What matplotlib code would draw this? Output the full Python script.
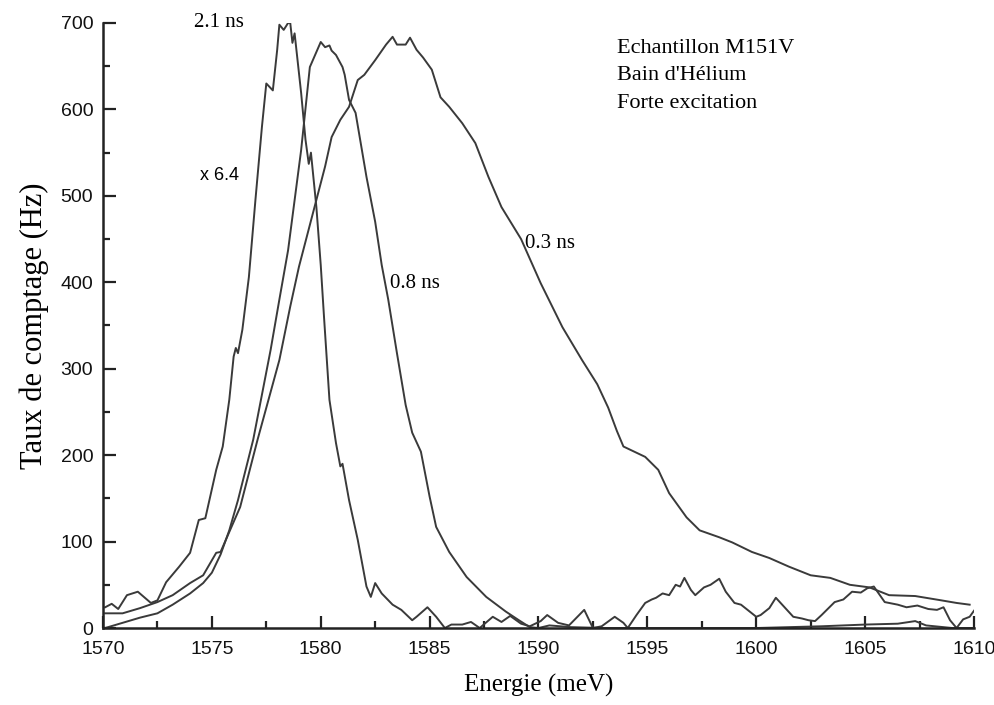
import matplotlib
matplotlib.use("Agg")
import matplotlib.pyplot as plt
from matplotlib.ticker import MultipleLocator

# Spectra (energy in meV, counting rate in Hz)
e_21 = [1570.1, 1570.4, 1570.7, 1571.1, 1571.6, 1572.2, 1572.5, 1572.9, 1573.5, 1574.0,
        1574.4, 1574.7, 1575.2, 1575.5, 1575.8, 1576.0, 1576.1, 1576.2, 1576.4, 1576.7,
        1577.0, 1577.3, 1577.5, 1577.8, 1578.0, 1578.1, 1578.3, 1578.5, 1578.6, 1578.7,
        1578.8, 1579.1, 1579.3, 1579.45, 1579.55, 1579.8, 1580.0, 1580.15, 1580.4, 1580.7,
        1580.9, 1581.0, 1581.3, 1581.7, 1582.1, 1582.3, 1582.5, 1582.8, 1583.3, 1583.7,
        1584.2, 1584.4, 1584.9, 1585.3, 1585.7, 1586.0, 1586.5, 1586.9, 1587.3, 1587.9,
        1588.3, 1588.7, 1589.2, 1589.6, 1590.1, 1590.4, 1590.9, 1591.4, 1592.1, 1592.5,
        1592.9, 1593.5, 1593.9, 1594.1, 1594.5, 1594.9, 1595.2, 1595.4, 1595.7, 1596.0,
        1596.3, 1596.5, 1596.7, 1597.0, 1597.2, 1597.6, 1597.9, 1598.3, 1598.6, 1599.0,
        1599.3, 1599.6, 1600.0, 1600.2, 1600.6, 1600.9, 1601.3, 1601.7, 1602.1, 1602.4,
        1602.7, 1603.0, 1603.6, 1604.0, 1604.4, 1604.8, 1605.1, 1605.4, 1605.9, 1606.5,
        1606.9, 1607.4, 1607.9, 1608.3, 1608.6, 1608.9, 1609.2, 1609.5, 1609.8, 1610.0]
c_21 = [24, 28, 22, 38, 42, 29, 32, 53, 71, 87,
        125, 127, 183, 210, 264, 314, 324, 318, 345, 406,
        495, 580, 630, 622, 669, 698, 692, 700, 700, 677,
        688, 619, 565, 537, 550, 487, 420, 360, 264, 214,
        187, 190, 148, 102, 48, 36, 52, 40, 27, 21,
        9, 13, 24, 13, 0, 4, 4, 7, 0, 13,
        7, 14, 5, 2, 8, 15, 6, 3, 21, 0,
        2, 13, 6, 0, 15, 29, 33, 35, 40, 38,
        50, 48, 58, 44, 38, 47, 50, 57, 42, 29,
        27, 21, 13, 15, 23, 35, 24, 13, 11, 9,
        8, 15, 30, 33, 42, 41, 46, 48, 30, 27,
        24, 26, 22, 21, 24, 9, 0, 10, 13, 20]

e_08 = [1570.1, 1570.9, 1571.7, 1572.5, 1573.2, 1574.0, 1574.6, 1575.0, 1575.4, 1575.8,
        1576.2, 1576.9, 1577.7, 1578.1, 1578.5, 1579.1, 1579.5, 1580.0, 1580.2, 1580.4,
        1580.5, 1580.7, 1581.0, 1581.1, 1581.3, 1581.6, 1582.1, 1582.5, 1582.8, 1583.1,
        1583.5, 1583.9, 1584.2, 1584.6, 1585.0, 1585.3, 1585.9, 1586.7, 1587.6, 1588.5,
        1589.1, 1589.6, 1590.0, 1590.5, 1591.5, 1593.0, 1600.0, 1603.0, 1605.0, 1606.5,
        1607.3, 1607.8, 1609.0, 1610.0]
c_08 = [0, 6, 12, 17, 27, 40, 52, 64, 85, 113,
        148, 218, 322, 380, 437, 553, 649, 678, 672, 674,
        668, 663, 649, 640, 611, 596, 522, 470, 420, 380,
        318, 258, 226, 204, 152, 117, 88, 59, 36, 19,
        9, 1, 0, 3, 1, 0, 0, 2, 4, 5,
        8, 3, 0, 0]

e_03 = [1570.1, 1570.9, 1571.7, 1572.5, 1573.2, 1574.0, 1574.6, 1575.2, 1575.4, 1576.3,
        1577.1, 1578.1, 1578.6, 1579.0, 1579.6, 1580.2, 1580.5, 1580.9, 1581.3, 1581.7,
        1582.0, 1582.5, 1583.0, 1583.3, 1583.5, 1583.9, 1584.1, 1584.4, 1584.7, 1585.1,
        1585.5, 1585.9, 1586.5, 1587.1, 1587.7, 1588.3, 1589.2, 1590.1, 1591.1, 1592.0,
        1592.7, 1593.2, 1593.6, 1593.9, 1594.4, 1594.9, 1595.5, 1596.0, 1596.8, 1597.4,
        1598.3, 1598.9, 1599.8, 1600.6, 1601.5, 1602.5, 1603.4, 1604.3, 1605.2, 1606.1,
        1607.3, 1608.5, 1609.2, 1609.8]
c_03 = [17, 17, 23, 30, 38, 52, 61, 87, 88, 140,
        218, 310, 372, 418, 476, 534, 568, 588, 603, 634,
        640, 657, 675, 684, 675, 675, 683, 669, 660, 646,
        614, 603, 584, 561, 522, 487, 450, 399, 348, 310,
        282, 255, 228, 210, 204, 198, 183, 156, 128, 113,
        105, 99, 88, 81, 71, 61, 58, 50, 47, 38,
        37, 32, 29, 27]

serif = "Liberation Serif"
sans = "Liberation Sans"
line_col = "#3a3a3a"

fig = plt.figure(figsize=(9.95, 7.05), dpi=100)
ax = fig.add_axes([0.1035, 0.1092, 0.8754, 0.8582])

ax.plot(e_21, c_21, color=line_col, lw=1.4)
ax.plot(e_08, c_08, color=line_col, lw=1.4)
ax.plot(e_03, c_03, color=line_col, lw=1.4)

ax.set_xlim(1570, 1610)
ax.set_ylim(0, 700)

# Axes style: only left and bottom, ticks inward
for side in ["top", "right"]:
    ax.spines[side].set_visible(False)
for side in ["left", "bottom"]:
    ax.spines[side].set_linewidth(1.8)
    ax.spines[side].set_color("#222222")

ax.xaxis.set_major_locator(MultipleLocator(5))
ax.xaxis.set_minor_locator(MultipleLocator(2.5))
ax.yaxis.set_major_locator(MultipleLocator(100))
ax.yaxis.set_minor_locator(MultipleLocator(50))
ax.tick_params(which="both", direction="in", width=1.6, color="#222222")
ax.tick_params(which="major", length=9)
ax.tick_params(which="minor", length=5)
ax.tick_params(axis="x", pad=9)
ax.tick_params(axis="y", pad=7)
for lab in ax.get_xticklabels() + ax.get_yticklabels():
    lab.set_fontfamily(sans)
    lab.set_fontsize(14)
    lab.set_color("#111111")

ax.set_xlabel("Energie (meV)", fontfamily=serif, fontsize=18, labelpad=12)
ax.set_ylabel("Taux de comptage (Hz)", fontfamily=serif, fontsize=22, labelpad=8)

# Curve labels
ax.text(1574.2, 701, "2.1 ns", fontfamily=serif, fontsize=15, va="center")
ax.text(1574.45, 524, "x 6.4", fontfamily=sans, fontsize=13, va="center")
ax.text(1583.2, 399, "0.8 ns", fontfamily=serif, fontsize=15, va="center")
ax.text(1589.4, 445, "0.3 ns", fontfamily=serif, fontsize=15, va="center")

ax.text(1593.6, 671, "Echantillon M151V", fontfamily=serif, fontsize=16, va="center")
ax.text(1593.6, 639, "Bain d'Hélium", fontfamily=serif, fontsize=16, va="center")
ax.text(1593.6, 607, "Forte excitation", fontfamily=serif, fontsize=16, va="center")

fig.savefig("out.png", dpi=100)
